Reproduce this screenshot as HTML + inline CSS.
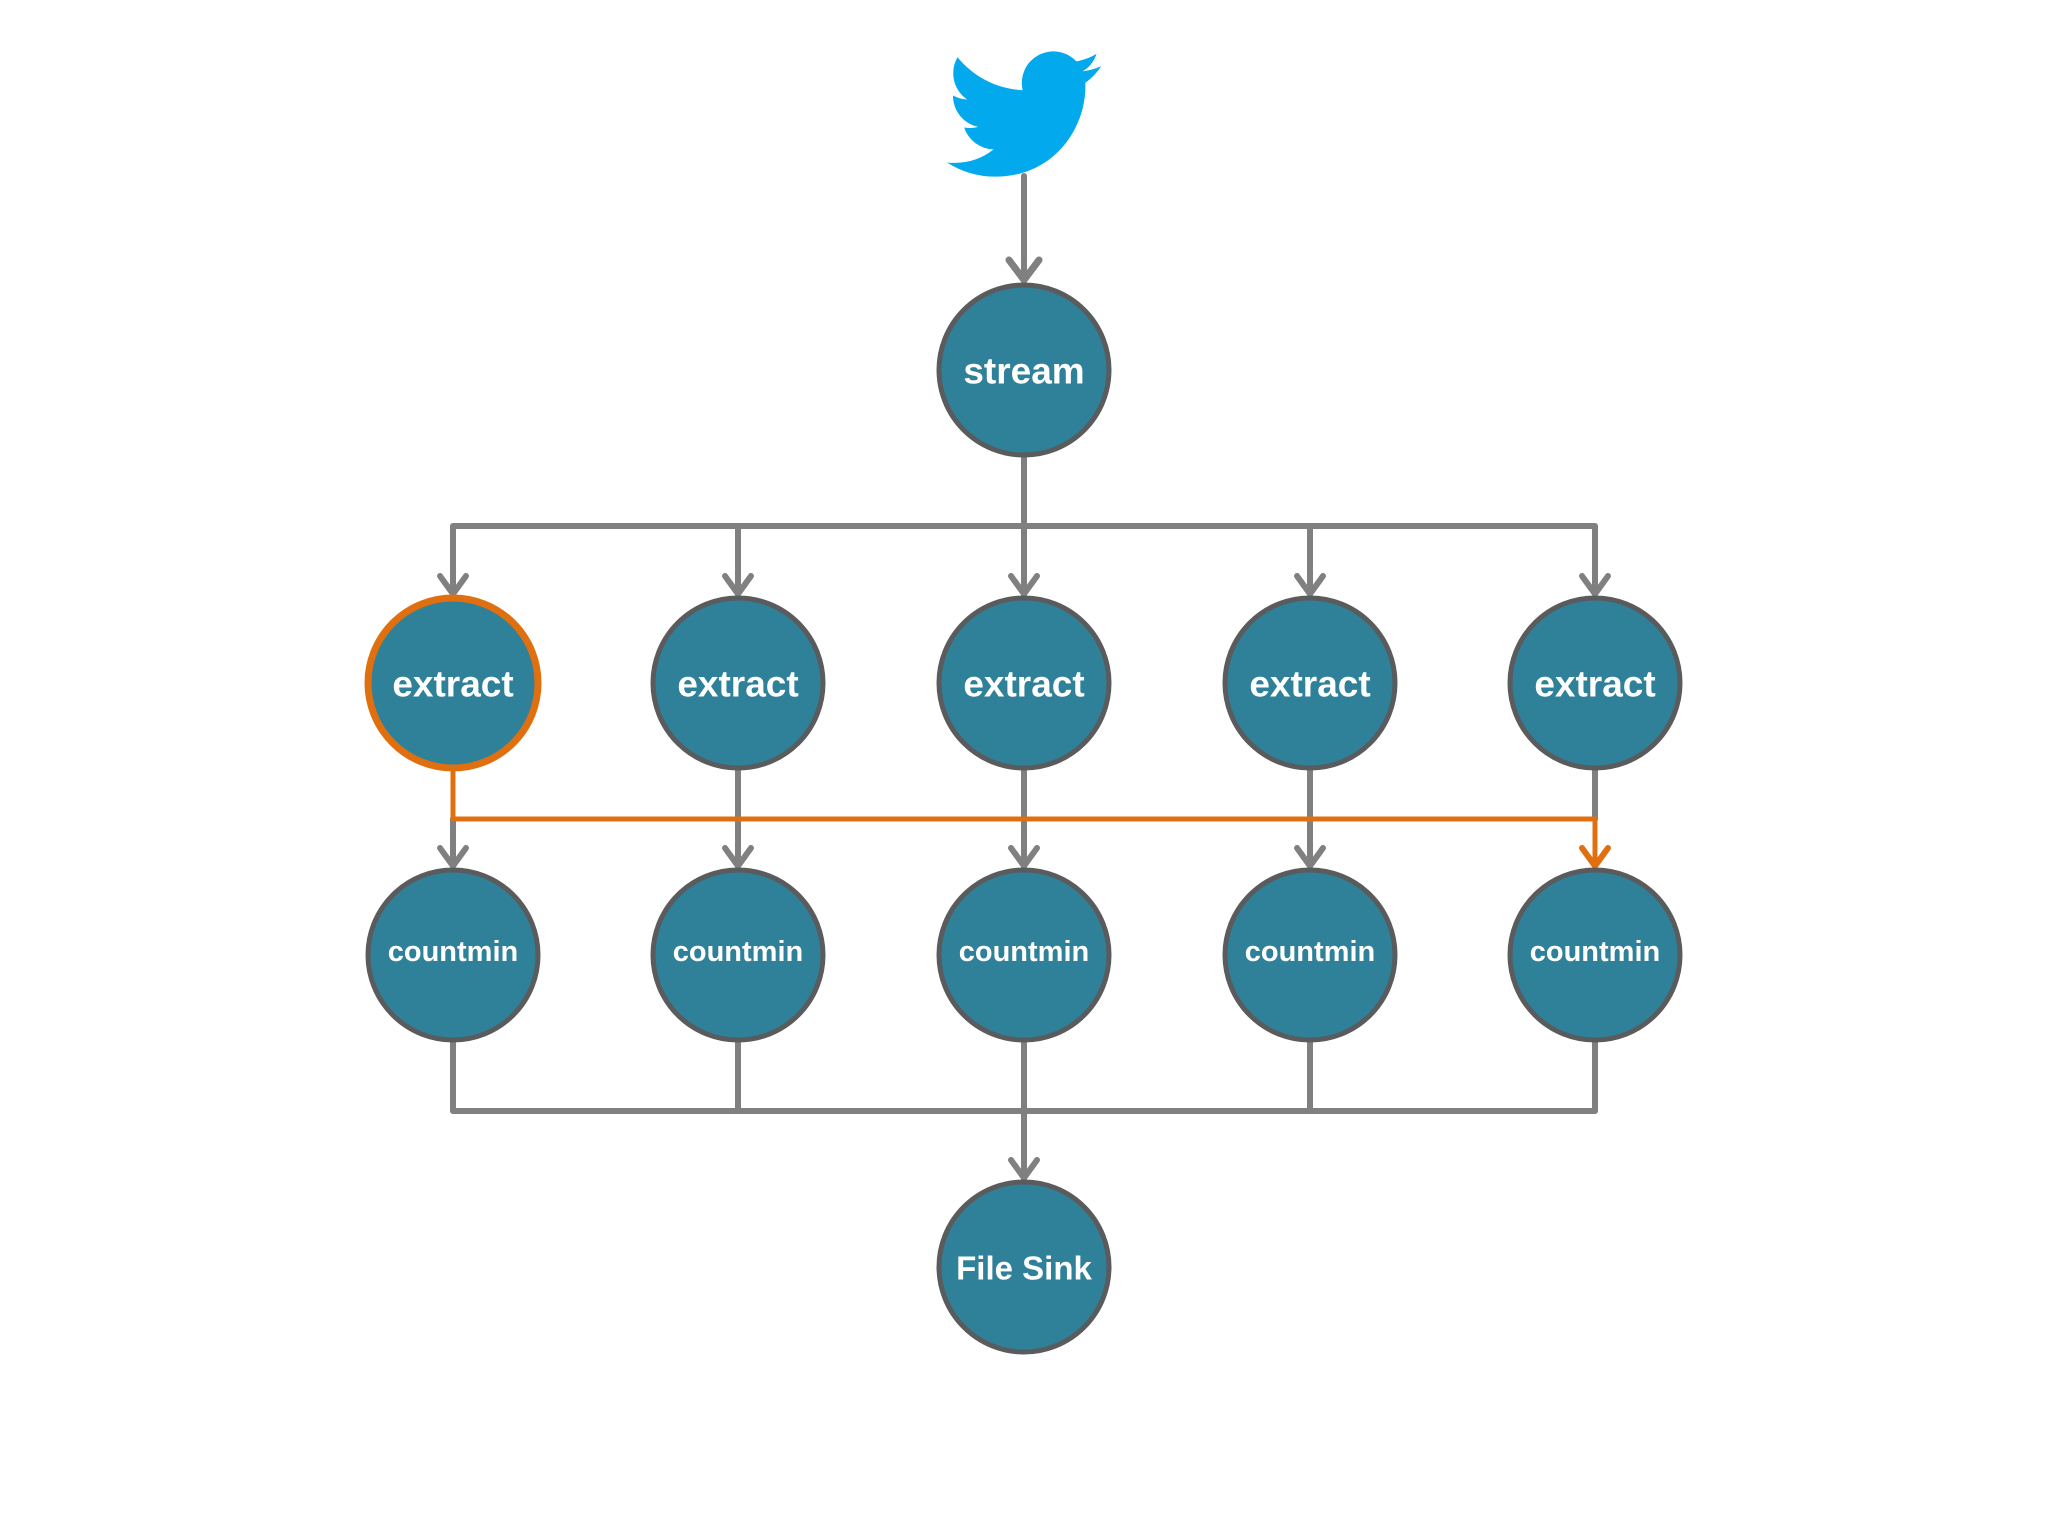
<!DOCTYPE html>
<html><head><meta charset="utf-8"><style>
html,body{margin:0;padding:0;background:#fff;}
svg{display:block}
text{font-family:"Liberation Sans",sans-serif;font-weight:bold;fill:#fff;text-anchor:middle;dominant-baseline:central}
</style></head><body>
<svg width="2048" height="1536" viewBox="0 0 2048 1536" xmlns="http://www.w3.org/2000/svg">
<rect width="2048" height="1536" fill="#fff"/>
<g transform="translate(947,37) scale(6.42)">
<path fill="#03a9ed" d="M23.953 4.57a10 10 0 01-2.825.775 4.958 4.958 0 002.163-2.723c-.951.555-2.005.959-3.127 1.184a4.92 4.92 0 00-8.384 4.482C7.69 8.095 4.067 6.13 1.64 3.162a4.822 4.822 0 00-.666 2.475c0 1.71.87 3.213 2.188 4.096a4.904 4.904 0 01-2.228-.616v.06a4.923 4.923 0 003.946 4.827 4.996 4.996 0 01-2.212.085 4.936 4.936 0 004.604 3.417 9.867 9.867 0 01-6.102 2.105c-.39 0-.779-.023-1.17-.067a13.995 13.995 0 007.557 2.209c9.053 0 13.998-7.496 13.998-13.985 0-.21 0-.42-.015-.63A9.935 9.935 0 0024 4.59z"/>
</g>
<g stroke="#808080" stroke-width="6" fill="none" stroke-linecap="round" stroke-linejoin="round">
<line x1="1024" y1="176" x2="1024" y2="280"/>
<polyline points="1009,260 1024,280 1039,260" stroke-width="7"/>
<line x1="1024" y1="456" x2="1024" y2="526"/>
<polyline points="453,594 453,526 1595,526 1595,594"/>
<line x1="738" y1="526" x2="738" y2="594"/>
<line x1="1024" y1="526" x2="1024" y2="594"/>
<line x1="1310" y1="526" x2="1310" y2="594"/>
<g>
<polyline points="440,576 453,594 466,576"/>
<polyline points="725,576 738,594 751,576"/>
<polyline points="1011,576 1024,594 1037,576"/>
<polyline points="1297,576 1310,594 1323,576"/>
<polyline points="1582,576 1595,594 1608,576"/>
</g>
<line x1="453" y1="819" x2="453" y2="866"/>
<line x1="738" y1="769" x2="738" y2="866"/>
<line x1="1024" y1="769" x2="1024" y2="866"/>
<line x1="1310" y1="769" x2="1310" y2="866"/>
<line x1="1595" y1="769" x2="1595" y2="819"/>
<polyline points="440,848 453,866 466,848"/>
<polyline points="725,848 738,866 751,848"/>
<polyline points="1011,848 1024,866 1037,848"/>
<polyline points="1297,848 1310,866 1323,848"/>
<polyline points="453,1041 453,1111 1595,1111 1595,1041" stroke-linecap="butt"/>
<line x1="738" y1="1041" x2="738" y2="1111"/>
<line x1="1024" y1="1041" x2="1024" y2="1178"/>
<line x1="1310" y1="1041" x2="1310" y2="1111"/>
<polyline points="1011,1160 1024,1178 1037,1160"/>
</g>
<g stroke="#e0700f" stroke-width="5" fill="none" stroke-linecap="round" stroke-linejoin="round">
<polyline points="453,769 453,819 1595,819 1595,866"/>
<polyline points="1582,848 1595,866 1608,848" stroke-width="6"/>
</g>
<g fill="#2f8199" stroke="#5a5b5d" stroke-width="5">
<circle cx="1024" cy="370" r="85"/>
<circle cx="738" cy="683" r="85"/>
<circle cx="1024" cy="683" r="85"/>
<circle cx="1310" cy="683" r="85"/>
<circle cx="1595" cy="683" r="85"/>
<circle cx="453" cy="955" r="85"/>
<circle cx="738" cy="955" r="85"/>
<circle cx="1024" cy="955" r="85"/>
<circle cx="1310" cy="955" r="85"/>
<circle cx="1595" cy="955" r="85"/>
<circle cx="1024" cy="1267" r="85"/>
</g>
<circle cx="453" cy="683" r="85" fill="#2f8199" stroke="#e0700f" stroke-width="7"/>
<text x="1024" y="371" font-size="37">stream</text>
<g font-size="37">
<text x="453" y="684" font-size="37">extract</text>
<text x="738" y="684" font-size="37">extract</text>
<text x="1024" y="684" font-size="37">extract</text>
<text x="1310" y="684" font-size="37">extract</text>
<text x="1595" y="684" font-size="37">extract</text>
</g>
<text x="453" y="952" font-size="29">countmin</text>
<text x="738" y="952" font-size="29">countmin</text>
<text x="1024" y="952" font-size="29">countmin</text>
<text x="1310" y="952" font-size="29">countmin</text>
<text x="1595" y="952" font-size="29">countmin</text>
<text x="1024" y="1268" font-size="33">File Sink</text>
</svg>
</body></html>
